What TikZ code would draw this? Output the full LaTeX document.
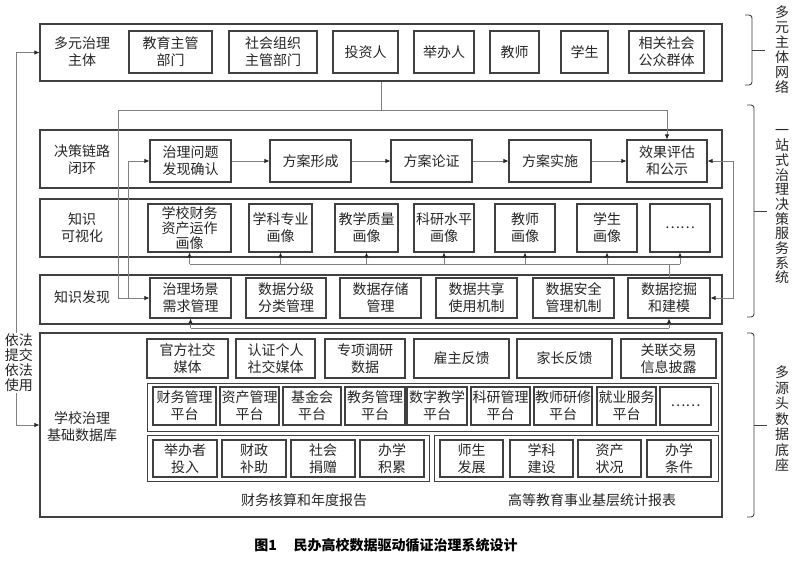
\documentclass[tikz,border=0pt]{standalone}
\usepackage{fontspec}
\newfontfamily\cjk{Noto Sans CJK SC}
\usetikzlibrary{arrows.meta}

\begin{document}
\begin{tikzpicture}[x=1pt,y=-1pt,
  font=\cjk\fontsize{14}{17}\selectfont,
  >={Latex[length=5pt,width=4.5pt,color=black!85]},
  rowbox/.style={draw=black!75,line width=1.1pt,minimum width=682pt,minimum height=#1,inner sep=0pt},
  grp/.style={draw=black!75,line width=1pt,inner sep=0pt},
  box/.style 2 args={draw=black!75,line width=1.1pt,align=center,inner sep=0.5pt,text=black!85,minimum width=#1,minimum height=#2},
  lbl/.style={align=center,text=black!85},
  link/.style={draw=black!50,line width=0.7pt,->},
  plain/.style={draw=black!50,line width=0.7pt},
  brk/.style={draw=black!75,line width=0.9pt,rounded corners=3pt}]
\fill[white] (0,0) rectangle (800,562);

\node[rowbox=57pt] (zt) at (381,52.5) {};
\node[rowbox=58pt] (jc) at (381,159) {};
\node[rowbox=58pt] (zs) at (381,228) {};
\node[rowbox=49pt] (fx) at (381,299.5) {};
\node[rowbox=184pt] (ku) at (381,425) {};
\node[grp,minimum width=571pt,minimum height=48pt] (pt) at (432.5,407) {};
\node[grp,minimum width=282pt,minimum height=46pt] (cz) at (288,458) {};
\node[grp,minimum width=284pt,minimum height=46pt] (tj) at (576,458) {};

\node[lbl] (zt-l) at (82,52) {多元治理\\主体};
\node[lbl] (jc-l) at (82,160) {决策链路\\闭环};
\node[lbl] (zs-l) at (82,228) {知识\\可视化};
\node[lbl] (fx-l) at (82,297) {知识发现};
\node[lbl] (ku-l) at (82,427) {学校治理\\基础数据库};
\node[lbl] (cz-l) at (304,500) {财务核算和年度报告};
\node[lbl] (tj-l) at (592,500) {高等教育事业基层统计报表};

\node[box={83pt}{42pt}] (jyzg) at (170.5,52) {教育主管\\部门};
\node[box={88pt}{42pt}] (shzz) at (273,52) {社会组织\\主管部门};
\node[box={65pt}{42pt}] (tzr) at (365.5,52) {投资人};
\node[box={60pt}{42pt}] (jbr) at (444,52) {举办人};
\node[box={49pt}{42pt}] (js) at (514.5,52) {教师};
\node[box={47pt}{42pt}] (xs) at (584.5,52) {学生};
\node[box={75pt}{42pt}] (gz) at (666.5,52) {相关社会\\公众群体};

\node[box={81pt}{42pt}] (wt) at (190.5,161) {治理问题\\发现确认};
\node[box={81pt}{42pt}] (xc) at (310.5,161) {方案形成};
\node[box={81pt}{42pt}] (lz) at (431.5,161) {方案论证};
\node[box={82pt}{42pt}] (ss) at (550,161) {方案实施};
\node[box={80pt}{42pt}] (xg) at (667,161) {效果评估\\和公示};

\node[box={83pt}{48pt},font=\cjk\fontsize{14}{15}\selectfont] (cw) at (189.5,228) {学校财务\\资产运作\\画像};
\node[box={63pt}{48pt}] (zy) at (280.5,228) {学科专业\\画像};
\node[box={63pt}{48pt}] (zl) at (366.5,228) {教学质量\\画像};
\node[box={60pt}{48pt}] (ky) at (444,228) {科研水平\\画像};
\node[box={60pt}{48pt}] (jshx) at (525,228) {教师\\画像};
\node[box={60pt}{48pt}] (xshx) at (607,228) {学生\\画像};
\node[box={60pt}{48pt}] (gd) at (680,228) {……};

\node[box={81pt}{40pt}] (cj) at (190.5,298) {治理场景\\需求管理};
\node[box={80pt}{40pt}] (fj) at (286,298) {数据分级\\分类管理};
\node[box={81pt}{40pt}] (cc) at (380.5,298) {数据存储\\管理};
\node[box={81pt}{40pt}] (gx) at (476.5,298) {数据共享\\使用机制};
\node[box={81pt}{40pt}] (aq) at (573.5,298) {数据安全\\管理机制};
\node[box={82pt}{40pt}] (wj) at (669,298) {数据挖掘\\和建模};

\node[box={81pt}{39pt}] (gf) at (187.5,358.5) {官方社交\\媒体};
\node[box={79pt}{39pt}] (rz) at (275.5,358.5) {认证个人\\社交媒体};
\node[box={80pt}{39pt}] (zx) at (365,358.5) {专项调研\\数据};
\node[box={95pt}{39pt}] (gzfk) at (461.5,358.5) {雇主反馈};
\node[box={95pt}{39pt}] (jzfk) at (564.5,358.5) {家长反馈};
\node[box={95pt}{39pt}] (gl) at (668.5,358.5) {关联交易\\信息披露};

\node[box={63pt}{38pt}] (cwgl) at (184.5,406) {财务管理\\平台};
\node[box={59pt}{38pt}] (zcgl) at (249.5,406) {资产管理\\平台};
\node[box={58pt}{38pt}] (jjh) at (312,406) {基金会\\平台};
\node[box={60pt}{38pt}] (jwgl) at (375,406) {教务管理\\平台};
\node[box={60pt}{38pt}] (szjx) at (437,406) {数字教学\\平台};
\node[box={59pt}{38pt}] (kygl) at (500.5,406) {科研管理\\平台};
\node[box={58pt}{38pt}] (jsyx) at (563,406) {教师研修\\平台};
\node[box={59pt}{38pt}] (jyfw) at (626.5,406) {就业服务\\平台};
\node[box={51pt}{38pt}] (gd2) at (685.5,406) {……};

\node[box={64pt}{37pt}] (jbz) at (185,458.5) {举办者\\投入};
\node[box={64pt}{37pt}] (czbz) at (254,458.5) {财政\\补助};
\node[box={64pt}{37pt}] (shjz) at (323,458.5) {社会\\捐赠};
\node[box={64pt}{37pt}] (bxjl) at (392,458.5) {办学\\积累};
\node[box={63pt}{37pt}] (ssfz) at (471.5,458.5) {师生\\发展};
\node[box={63pt}{37pt}] (xkjs) at (541.5,458.5) {学科\\建设};
\node[box={63pt}{37pt}] (zczk) at (609.5,458.5) {资产\\状况};
\node[box={64pt}{37pt}] (bxtj) at (679,458.5) {办学\\条件};

\draw[link] (wt) -- (xc);
\draw[link] (xc) -- (lz);
\draw[link] (lz) -- (ss);
\draw[link] (ss) -- (xg);

\coordinate (sp) at (381,110);
\coordinate (sl) at (118,110);
\coordinate (sm) at (128,298);
\draw[link] (zt.south) -- (sp) -| (xg.north);
\draw[link] (sp) -- (sl) |- (cj.west);
\draw[link] (sm) |- (wt.west);
\draw[link,<->] (xg.east) -- ++(26,0) |- (wj.east);

\coordinate (vl) at (190,264);
\draw[plain] (wj.north) -- (wj.north |- vl);
\draw[plain] (cw.south |- vl) -- (gd.south |- vl);
\draw[link] (cw.south |- vl) -- (cw.south);
\draw[link] (zy.south |- vl) -- (zy.south);
\draw[link] (zl.south |- vl) -- (zl.south);
\draw[link] (ky.south |- vl) -- (ky.south);
\draw[link] (jshx.south |- vl) -- (jshx.south);
\draw[link] (xshx.south |- vl) -- (xshx.south);
\draw[link] (gd.south |- vl) -- (gd.south);

\coordinate (bl) at (190,328);
\draw[plain] (cj.south |- bl) -- (wj.south |- bl);
\draw[link] (cj.south |- bl) -- (cj.south);
\draw[link] (wj.south |- bl) -- (wj.south);

\draw[link,<->] (zt.west) -- ++(-23,0) |- (ku.west);
\node[lbl,fill=white,inner sep=1pt,font=\cjk\fontsize{14}{15}\selectfont] (yf) at (19,363) {依法\\提交\\依法\\使用};

\draw[brk] (745,15) -- (752,15) -- (752,85) -- (745,85);
\draw[brk] (752,50) -- (765,50);
\draw[brk] (747,105) -- (754,105) -- (754,317) -- (747,317);
\draw[brk] (754,211) -- (767,211);
\draw[brk] (747,333) -- (754,333) -- (754,517) -- (747,517);
\draw[brk] (754,425) -- (767,425);
\node[lbl,font=\cjk\fontsize{14}{15}\selectfont] (v1) at (782,50) {多\\元\\主\\体\\网\\络};
\node[lbl,font=\cjk\fontsize{14}{14.7}\selectfont] (v2) at (782,207) {一\\站\\式\\治\\理\\决\\策\\服\\务\\系\\统};
\node[lbl,font=\cjk\fontsize{14}{15.5}\selectfont] (v3) at (782,419) {多\\源\\头\\数\\据\\底\\座};

\node[font=\cjk\bfseries\fontsize{14}{16}\selectfont] (cap) at (386,545) {图1\hspace{1.2em}民办高校数据驱动循证治理系统设计};
\end{tikzpicture}
\end{document}
